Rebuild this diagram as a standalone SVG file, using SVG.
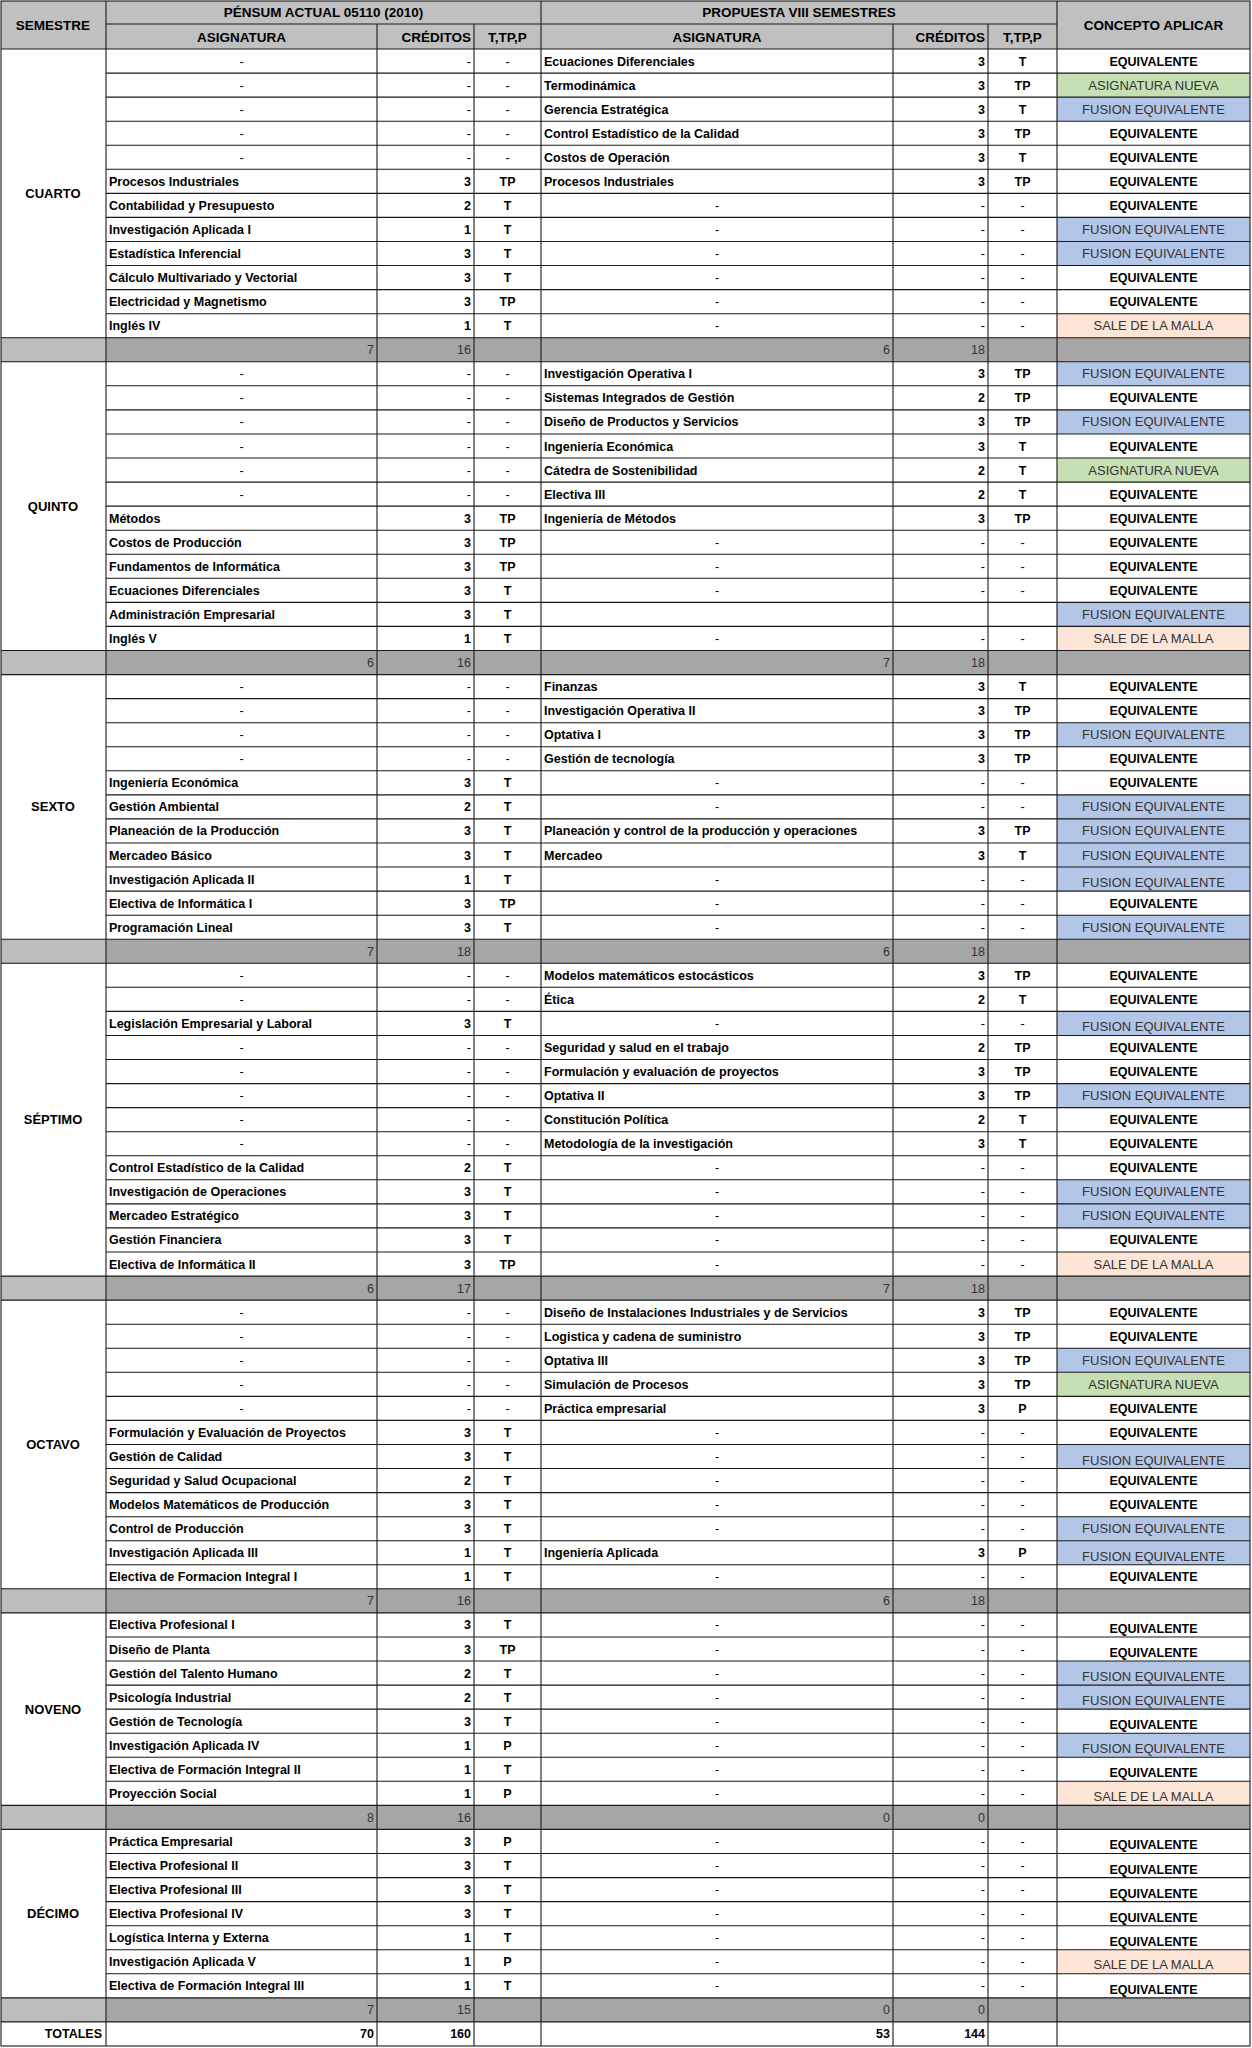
<svg xmlns="http://www.w3.org/2000/svg" width="1252" height="2048" viewBox="0 0 1252 2048">
<style>
text{font-family:"Liberation Sans",Arial,sans-serif;font-size:12.5px;font-weight:700;fill:#000}
.r{font-weight:400}
.k{font-weight:400;fill:#333;font-size:13px;text-anchor:middle}
.s{font-weight:400;fill:#333;text-anchor:end}
.h{font-size:13.5px;text-anchor:middle}
.sem{font-size:13px;text-anchor:middle}
.m{text-anchor:middle}
.e{text-anchor:end}
.bl{fill:#b4c6e7}.gr{fill:#c6e0b4}.sa{fill:#fce4d6}.sb{fill:#a6a6a6}.sl{fill:#bdbdbd}.hd{fill:#c0c0c0}
.ln{fill:none;stroke:#1a1a1a;stroke-width:1.1}
</style>
<rect x="0" y="0" width="1252" height="2048" fill="#fff"/>
<g id="header">
<rect class="hd" x="1" y="1" width="1249" height="48"/>
<text class="h" x="53" y="29.5">SEMESTRE</text>
<text class="h" x="323.5" y="17">PÉNSUM ACTUAL 05110 (2010)</text>
<text class="h" x="799" y="17">PROPUESTA VIII SEMESTRES</text>
<text class="h" x="241.5" y="41.5">ASIGNATURA</text>
<text class="h e" x="471" y="41.5">CRÉDITOS</text>
<text class="h" x="507.5" y="41.5">T,TP,P</text>
<text class="h" x="717" y="41.5">ASIGNATURA</text>
<text class="h e" x="985" y="41.5">CRÉDITOS</text>
<text class="h" x="1022.5" y="41.5">T,TP,P</text>
<text class="h" x="1153.5" y="29.5">CONCEPTO APLICAR</text>
</g>

<g id="cuarto">
<text class="sem" x="53" y="197.9">CUARTO</text>
<g transform="translate(0,65.5)"><text class="r m" x="241.5">-</text><text class="r e" x="471">-</text><text class="r m" x="507.5">-</text><text x="544">Ecuaciones Diferenciales</text><text class="e" x="985">3</text><text class="m" x="1022.5">T</text><text class="m" x="1153.5">EQUIVALENTE</text></g>
<g transform="translate(0,89.6)"><rect class="gr" x="1057" y="-16.5" width="193" height="24.1"/><text class="r m" x="241.5">-</text><text class="r e" x="471">-</text><text class="r m" x="507.5">-</text><text x="544">Termodinámica</text><text class="e" x="985">3</text><text class="m" x="1022.5">TP</text><text class="k" x="1153.5">ASIGNATURA NUEVA</text></g>
<g transform="translate(0,113.6)"><rect class="bl" x="1057" y="-16.5" width="193" height="24.1"/><text class="r m" x="241.5">-</text><text class="r e" x="471">-</text><text class="r m" x="507.5">-</text><text x="544">Gerencia Estratégica</text><text class="e" x="985">3</text><text class="m" x="1022.5">T</text><text class="k" x="1153.5">FUSION EQUIVALENTE</text></g>
<g transform="translate(0,137.7)"><text class="r m" x="241.5">-</text><text class="r e" x="471">-</text><text class="r m" x="507.5">-</text><text x="544">Control Estadístico de la Calidad</text><text class="e" x="985">3</text><text class="m" x="1022.5">TP</text><text class="m" x="1153.5">EQUIVALENTE</text></g>
<g transform="translate(0,161.7)"><text class="r m" x="241.5">-</text><text class="r e" x="471">-</text><text class="r m" x="507.5">-</text><text x="544">Costos de Operación</text><text class="e" x="985">3</text><text class="m" x="1022.5">T</text><text class="m" x="1153.5">EQUIVALENTE</text></g>
<g transform="translate(0,185.8)"><text x="109">Procesos Industriales</text><text class="e" x="471">3</text><text class="m" x="507.5">TP</text><text x="544">Procesos Industriales</text><text class="e" x="985">3</text><text class="m" x="1022.5">TP</text><text class="m" x="1153.5">EQUIVALENTE</text></g>
<g transform="translate(0,209.9)"><text x="109">Contabilidad y Presupuesto</text><text class="e" x="471">2</text><text class="m" x="507.5">T</text><text class="r m" x="717">-</text><text class="r e" x="985">-</text><text class="r m" x="1022.5">-</text><text class="m" x="1153.5">EQUIVALENTE</text></g>
<g transform="translate(0,233.9)"><rect class="bl" x="1057" y="-16.5" width="193" height="24.1"/><text x="109">Investigación Aplicada I</text><text class="e" x="471">1</text><text class="m" x="507.5">T</text><text class="r m" x="717">-</text><text class="r e" x="985">-</text><text class="r m" x="1022.5">-</text><text class="k" x="1153.5">FUSION EQUIVALENTE</text></g>
<g transform="translate(0,258)"><rect class="bl" x="1057" y="-16.5" width="193" height="24.1"/><text x="109">Estadística Inferencial</text><text class="e" x="471">3</text><text class="m" x="507.5">T</text><text class="r m" x="717">-</text><text class="r e" x="985">-</text><text class="r m" x="1022.5">-</text><text class="k" x="1153.5">FUSION EQUIVALENTE</text></g>
<g transform="translate(0,282)"><text x="109">Cálculo Multivariado y Vectorial</text><text class="e" x="471">3</text><text class="m" x="507.5">T</text><text class="r m" x="717">-</text><text class="r e" x="985">-</text><text class="r m" x="1022.5">-</text><text class="m" x="1153.5">EQUIVALENTE</text></g>
<g transform="translate(0,306.1)"><text x="109">Electricidad y Magnetismo</text><text class="e" x="471">3</text><text class="m" x="507.5">TP</text><text class="r m" x="717">-</text><text class="r e" x="985">-</text><text class="r m" x="1022.5">-</text><text class="m" x="1153.5">EQUIVALENTE</text></g>
<g transform="translate(0,330.2)"><rect class="sa" x="1057" y="-16.5" width="193" height="24.1"/><text x="109">Inglés IV</text><text class="e" x="471">1</text><text class="m" x="507.5">T</text><text class="r m" x="717">-</text><text class="r e" x="985">-</text><text class="r m" x="1022.5">-</text><text class="k" x="1153.5">SALE DE LA MALLA</text></g>
<g transform="translate(0,354.2)"><rect class="sb" x="1" y="-16.5" width="1249" height="24.1"/><rect class="sl" x="1" y="-16.5" width="105" height="24.1"/><text class="s" x="374">7</text><text class="s" x="471">16</text><text class="s" x="890">6</text><text class="s" x="985">18</text></g>
</g>

<g id="quinto">
<text class="sem" x="53" y="510.6">QUINTO</text>
<g transform="translate(0,378.3)"><rect class="bl" x="1057" y="-16.5" width="193" height="24.1"/><text class="r m" x="241.5">-</text><text class="r e" x="471">-</text><text class="r m" x="507.5">-</text><text x="544">Investigación Operativa I</text><text class="e" x="985">3</text><text class="m" x="1022.5">TP</text><text class="k" x="1153.5">FUSION EQUIVALENTE</text></g>
<g transform="translate(0,402.3)"><text class="r m" x="241.5">-</text><text class="r e" x="471">-</text><text class="r m" x="507.5">-</text><text x="544">Sistemas Integrados de Gestión</text><text class="e" x="985">2</text><text class="m" x="1022.5">TP</text><text class="m" x="1153.5">EQUIVALENTE</text></g>
<g transform="translate(0,426.4)"><rect class="bl" x="1057" y="-16.5" width="193" height="24.1"/><text class="r m" x="241.5">-</text><text class="r e" x="471">-</text><text class="r m" x="507.5">-</text><text x="544">Diseño de Productos y Servicios</text><text class="e" x="985">3</text><text class="m" x="1022.5">TP</text><text class="k" x="1153.5">FUSION EQUIVALENTE</text></g>
<g transform="translate(0,450.5)"><text class="r m" x="241.5">-</text><text class="r e" x="471">-</text><text class="r m" x="507.5">-</text><text x="544">Ingeniería Económica</text><text class="e" x="985">3</text><text class="m" x="1022.5">T</text><text class="m" x="1153.5">EQUIVALENTE</text></g>
<g transform="translate(0,474.5)"><rect class="gr" x="1057" y="-16.5" width="193" height="24.1"/><text class="r m" x="241.5">-</text><text class="r e" x="471">-</text><text class="r m" x="507.5">-</text><text x="544">Cátedra de Sostenibilidad</text><text class="e" x="985">2</text><text class="m" x="1022.5">T</text><text class="k" x="1153.5">ASIGNATURA NUEVA</text></g>
<g transform="translate(0,498.6)"><text class="r m" x="241.5">-</text><text class="r e" x="471">-</text><text class="r m" x="507.5">-</text><text x="544">Electiva III</text><text class="e" x="985">2</text><text class="m" x="1022.5">T</text><text class="m" x="1153.5">EQUIVALENTE</text></g>
<g transform="translate(0,522.6)"><text x="109">Métodos</text><text class="e" x="471">3</text><text class="m" x="507.5">TP</text><text x="544">Ingeniería de Métodos</text><text class="e" x="985">3</text><text class="m" x="1022.5">TP</text><text class="m" x="1153.5">EQUIVALENTE</text></g>
<g transform="translate(0,546.7)"><text x="109">Costos de Producción</text><text class="e" x="471">3</text><text class="m" x="507.5">TP</text><text class="r m" x="717">-</text><text class="r e" x="985">-</text><text class="r m" x="1022.5">-</text><text class="m" x="1153.5">EQUIVALENTE</text></g>
<g transform="translate(0,570.8)"><text x="109">Fundamentos de Informática</text><text class="e" x="471">3</text><text class="m" x="507.5">TP</text><text class="r m" x="717">-</text><text class="r e" x="985">-</text><text class="r m" x="1022.5">-</text><text class="m" x="1153.5">EQUIVALENTE</text></g>
<g transform="translate(0,594.8)"><text x="109">Ecuaciones Diferenciales</text><text class="e" x="471">3</text><text class="m" x="507.5">T</text><text class="r m" x="717">-</text><text class="r e" x="985">-</text><text class="r m" x="1022.5">-</text><text class="m" x="1153.5">EQUIVALENTE</text></g>
<g transform="translate(0,618.9)"><rect class="bl" x="1057" y="-16.5" width="193" height="24.1"/><text x="109">Administración Empresarial</text><text class="e" x="471">3</text><text class="m" x="507.5">T</text><text class="k" x="1153.5">FUSION EQUIVALENTE</text></g>
<g transform="translate(0,642.9)"><rect class="sa" x="1057" y="-16.5" width="193" height="24.1"/><text x="109">Inglés V</text><text class="e" x="471">1</text><text class="m" x="507.5">T</text><text class="r m" x="717">-</text><text class="r e" x="985">-</text><text class="r m" x="1022.5">-</text><text class="k" x="1153.5">SALE DE LA MALLA</text></g>
<g transform="translate(0,667)"><rect class="sb" x="1" y="-16.5" width="1249" height="24.1"/><rect class="sl" x="1" y="-16.5" width="105" height="24.1"/><text class="s" x="374">6</text><text class="s" x="471">16</text><text class="s" x="890">7</text><text class="s" x="985">18</text></g>
</g>

<g id="sexto">
<text class="sem" x="53" y="811.4">SEXTO</text>
<g transform="translate(0,691.1)"><text class="r m" x="241.5">-</text><text class="r e" x="471">-</text><text class="r m" x="507.5">-</text><text x="544">Finanzas</text><text class="e" x="985">3</text><text class="m" x="1022.5">T</text><text class="m" x="1153.5">EQUIVALENTE</text></g>
<g transform="translate(0,715.1)"><text class="r m" x="241.5">-</text><text class="r e" x="471">-</text><text class="r m" x="507.5">-</text><text x="544">Investigación Operativa II</text><text class="e" x="985">3</text><text class="m" x="1022.5">TP</text><text class="m" x="1153.5">EQUIVALENTE</text></g>
<g transform="translate(0,739.2)"><rect class="bl" x="1057" y="-16.5" width="193" height="24.1"/><text class="r m" x="241.5">-</text><text class="r e" x="471">-</text><text class="r m" x="507.5">-</text><text x="544">Optativa I</text><text class="e" x="985">3</text><text class="m" x="1022.5">TP</text><text class="k" x="1153.5">FUSION EQUIVALENTE</text></g>
<g transform="translate(0,763.2)"><text class="r m" x="241.5">-</text><text class="r e" x="471">-</text><text class="r m" x="507.5">-</text><text x="544">Gestión de tecnología</text><text class="e" x="985">3</text><text class="m" x="1022.5">TP</text><text class="m" x="1153.5">EQUIVALENTE</text></g>
<g transform="translate(0,787.3)"><text x="109">Ingeniería Económica</text><text class="e" x="471">3</text><text class="m" x="507.5">T</text><text class="r m" x="717">-</text><text class="r e" x="985">-</text><text class="r m" x="1022.5">-</text><text class="m" x="1153.5">EQUIVALENTE</text></g>
<g transform="translate(0,811.4)"><rect class="bl" x="1057" y="-16.5" width="193" height="24.1"/><text x="109">Gestión Ambiental</text><text class="e" x="471">2</text><text class="m" x="507.5">T</text><text class="r m" x="717">-</text><text class="r e" x="985">-</text><text class="r m" x="1022.5">-</text><text class="k" x="1153.5">FUSION EQUIVALENTE</text></g>
<g transform="translate(0,835.4)"><rect class="bl" x="1057" y="-16.5" width="193" height="24.1"/><text x="109">Planeación de la Producción</text><text class="e" x="471">3</text><text class="m" x="507.5">T</text><text x="544">Planeación y control de la producción y operaciones</text><text class="e" x="985">3</text><text class="m" x="1022.5">TP</text><text class="k" x="1153.5">FUSION EQUIVALENTE</text></g>
<g transform="translate(0,859.5)"><rect class="bl" x="1057" y="-16.5" width="193" height="24.1"/><text x="109">Mercadeo Básico</text><text class="e" x="471">3</text><text class="m" x="507.5">T</text><text x="544">Mercadeo</text><text class="e" x="985">3</text><text class="m" x="1022.5">T</text><text class="k" x="1153.5">FUSION EQUIVALENTE</text></g>
<g transform="translate(0,883.5)"><rect class="bl" x="1057" y="-16.5" width="193" height="24.1"/><text x="109">Investigación Aplicada II</text><text class="e" x="471">1</text><text class="m" x="507.5">T</text><text class="r m" x="717">-</text><text class="r e" x="985">-</text><text class="r m" x="1022.5">-</text><text class="k" x="1153.5" y="3.5">FUSION EQUIVALENTE</text></g>
<g transform="translate(0,907.6)"><text x="109">Electiva de Informática I</text><text class="e" x="471">3</text><text class="m" x="507.5">TP</text><text class="r m" x="717">-</text><text class="r e" x="985">-</text><text class="r m" x="1022.5">-</text><text class="m" x="1153.5">EQUIVALENTE</text></g>
<g transform="translate(0,931.7)"><rect class="bl" x="1057" y="-16.5" width="193" height="24.1"/><text x="109">Programación Lineal</text><text class="e" x="471">3</text><text class="m" x="507.5">T</text><text class="r m" x="717">-</text><text class="r e" x="985">-</text><text class="r m" x="1022.5">-</text><text class="k" x="1153.5">FUSION EQUIVALENTE</text></g>
<g transform="translate(0,955.7)"><rect class="sb" x="1" y="-16.5" width="1249" height="24.1"/><rect class="sl" x="1" y="-16.5" width="105" height="24.1"/><text class="s" x="374">7</text><text class="s" x="471">18</text><text class="s" x="890">6</text><text class="s" x="985">18</text></g>
</g>

<g id="septimo">
<text class="sem" x="53" y="1124.2">SÉPTIMO</text>
<g transform="translate(0,979.8)"><text class="r m" x="241.5">-</text><text class="r e" x="471">-</text><text class="r m" x="507.5">-</text><text x="544">Modelos matemáticos estocásticos</text><text class="e" x="985">3</text><text class="m" x="1022.5">TP</text><text class="m" x="1153.5">EQUIVALENTE</text></g>
<g transform="translate(0,1003.8)"><text class="r m" x="241.5">-</text><text class="r e" x="471">-</text><text class="r m" x="507.5">-</text><text x="544">Ética</text><text class="e" x="985">2</text><text class="m" x="1022.5">T</text><text class="m" x="1153.5">EQUIVALENTE</text></g>
<g transform="translate(0,1027.9)"><rect class="bl" x="1057" y="-16.5" width="193" height="24.1"/><text x="109">Legislación Empresarial y Laboral</text><text class="e" x="471">3</text><text class="m" x="507.5">T</text><text class="r m" x="717">-</text><text class="r e" x="985">-</text><text class="r m" x="1022.5">-</text><text class="k" x="1153.5" y="3.5">FUSION EQUIVALENTE</text></g>
<g transform="translate(0,1052)"><text class="r m" x="241.5">-</text><text class="r e" x="471">-</text><text class="r m" x="507.5">-</text><text x="544">Seguridad y salud en el trabajo</text><text class="e" x="985">2</text><text class="m" x="1022.5">TP</text><text class="m" x="1153.5">EQUIVALENTE</text></g>
<g transform="translate(0,1076)"><text class="r m" x="241.5">-</text><text class="r e" x="471">-</text><text class="r m" x="507.5">-</text><text x="544">Formulación y evaluación de proyectos</text><text class="e" x="985">3</text><text class="m" x="1022.5">TP</text><text class="m" x="1153.5">EQUIVALENTE</text></g>
<g transform="translate(0,1100.1)"><rect class="bl" x="1057" y="-16.5" width="193" height="24.1"/><text class="r m" x="241.5">-</text><text class="r e" x="471">-</text><text class="r m" x="507.5">-</text><text x="544">Optativa II</text><text class="e" x="985">3</text><text class="m" x="1022.5">TP</text><text class="k" x="1153.5">FUSION EQUIVALENTE</text></g>
<g transform="translate(0,1124.1)"><text class="r m" x="241.5">-</text><text class="r e" x="471">-</text><text class="r m" x="507.5">-</text><text x="544">Constitución Política</text><text class="e" x="985">2</text><text class="m" x="1022.5">T</text><text class="m" x="1153.5">EQUIVALENTE</text></g>
<g transform="translate(0,1148.2)"><text class="r m" x="241.5">-</text><text class="r e" x="471">-</text><text class="r m" x="507.5">-</text><text x="544">Metodología de la investigación</text><text class="e" x="985">3</text><text class="m" x="1022.5">T</text><text class="m" x="1153.5">EQUIVALENTE</text></g>
<g transform="translate(0,1172.3)"><text x="109">Control Estadístico de la Calidad</text><text class="e" x="471">2</text><text class="m" x="507.5">T</text><text class="r m" x="717">-</text><text class="r e" x="985">-</text><text class="r m" x="1022.5">-</text><text class="m" x="1153.5">EQUIVALENTE</text></g>
<g transform="translate(0,1196.3)"><rect class="bl" x="1057" y="-16.5" width="193" height="24.1"/><text x="109">Investigación de Operaciones</text><text class="e" x="471">3</text><text class="m" x="507.5">T</text><text class="r m" x="717">-</text><text class="r e" x="985">-</text><text class="r m" x="1022.5">-</text><text class="k" x="1153.5">FUSION EQUIVALENTE</text></g>
<g transform="translate(0,1220.4)"><rect class="bl" x="1057" y="-16.5" width="193" height="24.1"/><text x="109">Mercadeo Estratégico</text><text class="e" x="471">3</text><text class="m" x="507.5">T</text><text class="r m" x="717">-</text><text class="r e" x="985">-</text><text class="r m" x="1022.5">-</text><text class="k" x="1153.5">FUSION EQUIVALENTE</text></g>
<g transform="translate(0,1244.4)"><text x="109">Gestión Financiera</text><text class="e" x="471">3</text><text class="m" x="507.5">T</text><text class="r m" x="717">-</text><text class="r e" x="985">-</text><text class="r m" x="1022.5">-</text><text class="m" x="1153.5">EQUIVALENTE</text></g>
<g transform="translate(0,1268.5)"><rect class="sa" x="1057" y="-16.5" width="193" height="24.1"/><text x="109">Electiva de Informática II</text><text class="e" x="471">3</text><text class="m" x="507.5">TP</text><text class="r m" x="717">-</text><text class="r e" x="985">-</text><text class="r m" x="1022.5">-</text><text class="k" x="1153.5">SALE DE LA MALLA</text></g>
<g transform="translate(0,1292.6)"><rect class="sb" x="1" y="-16.5" width="1249" height="24.1"/><rect class="sl" x="1" y="-16.5" width="105" height="24.1"/><text class="s" x="374">6</text><text class="s" x="471">17</text><text class="s" x="890">7</text><text class="s" x="985">18</text></g>
</g>

<g id="octavo">
<text class="sem" x="53" y="1449">OCTAVO</text>
<g transform="translate(0,1316.6)"><text class="r m" x="241.5">-</text><text class="r e" x="471">-</text><text class="r m" x="507.5">-</text><text x="544">Diseño de Instalaciones Industriales y de Servicios</text><text class="e" x="985">3</text><text class="m" x="1022.5">TP</text><text class="m" x="1153.5">EQUIVALENTE</text></g>
<g transform="translate(0,1340.7)"><text class="r m" x="241.5">-</text><text class="r e" x="471">-</text><text class="r m" x="507.5">-</text><text x="544">Logistica y cadena de suministro</text><text class="e" x="985">3</text><text class="m" x="1022.5">TP</text><text class="m" x="1153.5">EQUIVALENTE</text></g>
<g transform="translate(0,1364.7)"><rect class="bl" x="1057" y="-16.5" width="193" height="24.1"/><text class="r m" x="241.5">-</text><text class="r e" x="471">-</text><text class="r m" x="507.5">-</text><text x="544">Optativa III</text><text class="e" x="985">3</text><text class="m" x="1022.5">TP</text><text class="k" x="1153.5">FUSION EQUIVALENTE</text></g>
<g transform="translate(0,1388.8)"><rect class="gr" x="1057" y="-16.5" width="193" height="24.1"/><text class="r m" x="241.5">-</text><text class="r e" x="471">-</text><text class="r m" x="507.5">-</text><text x="544">Simulación de Procesos</text><text class="e" x="985">3</text><text class="m" x="1022.5">TP</text><text class="k" x="1153.5">ASIGNATURA NUEVA</text></g>
<g transform="translate(0,1412.9)"><text class="r m" x="241.5">-</text><text class="r e" x="471">-</text><text class="r m" x="507.5">-</text><text x="544">Práctica empresarial</text><text class="e" x="985">3</text><text class="m" x="1022.5">P</text><text class="m" x="1153.5">EQUIVALENTE</text></g>
<g transform="translate(0,1436.9)"><text x="109">Formulación y Evaluación de Proyectos</text><text class="e" x="471">3</text><text class="m" x="507.5">T</text><text class="r m" x="717">-</text><text class="r e" x="985">-</text><text class="r m" x="1022.5">-</text><text class="m" x="1153.5">EQUIVALENTE</text></g>
<g transform="translate(0,1461)"><rect class="bl" x="1057" y="-16.5" width="193" height="24.1"/><text x="109">Gestión de Calidad</text><text class="e" x="471">3</text><text class="m" x="507.5">T</text><text class="r m" x="717">-</text><text class="r e" x="985">-</text><text class="r m" x="1022.5">-</text><text class="k" x="1153.5" y="3.5">FUSION EQUIVALENTE</text></g>
<g transform="translate(0,1485)"><text x="109">Seguridad y Salud Ocupacional</text><text class="e" x="471">2</text><text class="m" x="507.5">T</text><text class="r m" x="717">-</text><text class="r e" x="985">-</text><text class="r m" x="1022.5">-</text><text class="m" x="1153.5">EQUIVALENTE</text></g>
<g transform="translate(0,1509.1)"><text x="109">Modelos Matemáticos de Producción</text><text class="e" x="471">3</text><text class="m" x="507.5">T</text><text class="r m" x="717">-</text><text class="r e" x="985">-</text><text class="r m" x="1022.5">-</text><text class="m" x="1153.5">EQUIVALENTE</text></g>
<g transform="translate(0,1533.2)"><rect class="bl" x="1057" y="-16.5" width="193" height="24.1"/><text x="109">Control de Producción</text><text class="e" x="471">3</text><text class="m" x="507.5">T</text><text class="r m" x="717">-</text><text class="r e" x="985">-</text><text class="r m" x="1022.5">-</text><text class="k" x="1153.5">FUSION EQUIVALENTE</text></g>
<g transform="translate(0,1557.2)"><rect class="bl" x="1057" y="-16.5" width="193" height="24.1"/><text x="109">Investigación Aplicada III</text><text class="e" x="471">1</text><text class="m" x="507.5">T</text><text x="544">Ingeniería Aplicada</text><text class="e" x="985">3</text><text class="m" x="1022.5">P</text><text class="k" x="1153.5" y="3.5">FUSION EQUIVALENTE</text></g>
<g transform="translate(0,1581.3)"><text x="109">Electiva de Formacion Integral I</text><text class="e" x="471">1</text><text class="m" x="507.5">T</text><text class="r m" x="717">-</text><text class="r e" x="985">-</text><text class="r m" x="1022.5">-</text><text class="m" x="1153.5">EQUIVALENTE</text></g>
<g transform="translate(0,1605.3)"><rect class="sb" x="1" y="-16.5" width="1249" height="24.1"/><rect class="sl" x="1" y="-16.5" width="105" height="24.1"/><text class="s" x="374">7</text><text class="s" x="471">16</text><text class="s" x="890">6</text><text class="s" x="985">18</text></g>
</g>

<g id="noveno">
<text class="sem" x="53" y="1713.6">NOVENO</text>
<g transform="translate(0,1629.4)"><text x="109">Electiva Profesional I</text><text class="e" x="471">3</text><text class="m" x="507.5">T</text><text class="r m" x="717">-</text><text class="r e" x="985">-</text><text class="r m" x="1022.5">-</text><text class="m" x="1153.5" y="3.5">EQUIVALENTE</text></g>
<g transform="translate(0,1653.5)"><text x="109">Diseño de Planta</text><text class="e" x="471">3</text><text class="m" x="507.5">TP</text><text class="r m" x="717">-</text><text class="r e" x="985">-</text><text class="r m" x="1022.5">-</text><text class="m" x="1153.5" y="3.5">EQUIVALENTE</text></g>
<g transform="translate(0,1677.5)"><rect class="bl" x="1057" y="-16.5" width="193" height="24.1"/><text x="109">Gestión del Talento Humano</text><text class="e" x="471">2</text><text class="m" x="507.5">T</text><text class="r m" x="717">-</text><text class="r e" x="985">-</text><text class="r m" x="1022.5">-</text><text class="k" x="1153.5" y="3.5">FUSION EQUIVALENTE</text></g>
<g transform="translate(0,1701.6)"><rect class="bl" x="1057" y="-16.5" width="193" height="24.1"/><text x="109">Psicología Industrial</text><text class="e" x="471">2</text><text class="m" x="507.5">T</text><text class="r m" x="717">-</text><text class="r e" x="985">-</text><text class="r m" x="1022.5">-</text><text class="k" x="1153.5" y="3.5">FUSION EQUIVALENTE</text></g>
<g transform="translate(0,1725.6)"><text x="109">Gestión de Tecnología</text><text class="e" x="471">3</text><text class="m" x="507.5">T</text><text class="r m" x="717">-</text><text class="r e" x="985">-</text><text class="r m" x="1022.5">-</text><text class="m" x="1153.5" y="3.5">EQUIVALENTE</text></g>
<g transform="translate(0,1749.7)"><rect class="bl" x="1057" y="-16.5" width="193" height="24.1"/><text x="109">Investigación Aplicada IV</text><text class="e" x="471">1</text><text class="m" x="507.5">P</text><text class="r m" x="717">-</text><text class="r e" x="985">-</text><text class="r m" x="1022.5">-</text><text class="k" x="1153.5" y="3.5">FUSION EQUIVALENTE</text></g>
<g transform="translate(0,1773.8)"><text x="109">Electiva de Formación Integral II</text><text class="e" x="471">1</text><text class="m" x="507.5">T</text><text class="r m" x="717">-</text><text class="r e" x="985">-</text><text class="r m" x="1022.5">-</text><text class="m" x="1153.5" y="3.5">EQUIVALENTE</text></g>
<g transform="translate(0,1797.8)"><rect class="sa" x="1057" y="-16.5" width="193" height="24.1"/><text x="109">Proyección Social</text><text class="e" x="471">1</text><text class="m" x="507.5">P</text><text class="r m" x="717">-</text><text class="r e" x="985">-</text><text class="r m" x="1022.5">-</text><text class="k" x="1153.5" y="3.5">SALE DE LA MALLA</text></g>
<g transform="translate(0,1821.9)"><rect class="sb" x="1" y="-16.5" width="1249" height="24.1"/><rect class="sl" x="1" y="-16.5" width="105" height="24.1"/><text class="s" x="374">8</text><text class="s" x="471">16</text><text class="s" x="890">0</text><text class="s" x="985">0</text></g>
</g>

<g id="decimo">
<text class="sem" x="53" y="1918.1">DÉCIMO</text>
<g transform="translate(0,1845.9)"><text x="109">Práctica Empresarial</text><text class="e" x="471">3</text><text class="m" x="507.5">P</text><text class="r m" x="717">-</text><text class="r e" x="985">-</text><text class="r m" x="1022.5">-</text><text class="m" x="1153.5" y="3.5">EQUIVALENTE</text></g>
<g transform="translate(0,1870)"><text x="109">Electiva Profesional II</text><text class="e" x="471">3</text><text class="m" x="507.5">T</text><text class="r m" x="717">-</text><text class="r e" x="985">-</text><text class="r m" x="1022.5">-</text><text class="m" x="1153.5" y="3.5">EQUIVALENTE</text></g>
<g transform="translate(0,1894.1)"><text x="109">Electiva Profesional III</text><text class="e" x="471">3</text><text class="m" x="507.5">T</text><text class="r m" x="717">-</text><text class="r e" x="985">-</text><text class="r m" x="1022.5">-</text><text class="m" x="1153.5" y="3.5">EQUIVALENTE</text></g>
<g transform="translate(0,1918.1)"><text x="109">Electiva Profesional IV</text><text class="e" x="471">3</text><text class="m" x="507.5">T</text><text class="r m" x="717">-</text><text class="r e" x="985">-</text><text class="r m" x="1022.5">-</text><text class="m" x="1153.5" y="3.5">EQUIVALENTE</text></g>
<g transform="translate(0,1942.2)"><text x="109">Logística Interna y Externa</text><text class="e" x="471">1</text><text class="m" x="507.5">T</text><text class="r m" x="717">-</text><text class="r e" x="985">-</text><text class="r m" x="1022.5">-</text><text class="m" x="1153.5" y="3.5">EQUIVALENTE</text></g>
<g transform="translate(0,1966.2)"><rect class="sa" x="1057" y="-16.5" width="193" height="24.1"/><text x="109">Investigación Aplicada V</text><text class="e" x="471">1</text><text class="m" x="507.5">P</text><text class="r m" x="717">-</text><text class="r e" x="985">-</text><text class="r m" x="1022.5">-</text><text class="k" x="1153.5" y="3">SALE DE LA MALLA</text></g>
<g transform="translate(0,1990.3)"><text x="109">Electiva de Formación Integral III</text><text class="e" x="471">1</text><text class="m" x="507.5">T</text><text class="r m" x="717">-</text><text class="r e" x="985">-</text><text class="r m" x="1022.5">-</text><text class="m" x="1153.5" y="3.5">EQUIVALENTE</text></g>
<g transform="translate(0,2014.4)"><rect class="sb" x="1" y="-16.5" width="1249" height="24.1"/><rect class="sl" x="1" y="-16.5" width="105" height="24.1"/><text class="s" x="374">7</text><text class="s" x="471">15</text><text class="s" x="890">0</text><text class="s" x="985">0</text></g>
</g>

<g id="totales">
<g transform="translate(0,2038.4)"><text class="e" x="102">TOTALES</text><text class="e" x="374">70</text><text class="e" x="471">160</text><text class="e" x="890">53</text><text class="e" x="985">144</text></g>
</g>

<g id="grid">
<rect class="ln" x="1" y="1" width="1249" height="2045" stroke-width="1.6"/>
<path class="ln" d="M106 1V2046M541 1V2046M1057 1V2046M377 24V2046M474 24V2046M893 24V2046M988 24V2046M106 24H1057M1 49H1250"/>
<path class="ln" d="M106 73.1H1250M106 97.1H1250M106 121.2H1250M106 145.2H1250M106 169.3H1250M106 193.4H1250M106 217.4H1250M106 241.5H1250M106 265.5H1250M106 289.6H1250M106 313.7H1250M1 337.7H1250M1 361.8H1250
M106 385.8H1250M106 409.9H1250M106 434H1250M106 458H1250M106 482.1H1250M106 506.1H1250M106 530.2H1250M106 554.3H1250M106 578.3H1250M106 602.4H1250M106 626.4H1250M1 650.5H1250M1 674.6H1250
M106 698.6H1250M106 722.7H1250M106 746.7H1250M106 770.8H1250M106 794.9H1250M106 818.9H1250M106 843H1250M106 867H1250M106 891.1H1250M106 915.2H1250M1 939.2H1250M1 963.3H1250
M106 987.3H1250M106 1011.4H1250M106 1035.5H1250M106 1059.5H1250M106 1083.6H1250M106 1107.6H1250M106 1131.7H1250M106 1155.8H1250M106 1179.8H1250M106 1203.9H1250M106 1227.9H1250M106 1252H1250M1 1276.1H1250M1 1300.1H1250
M106 1324.2H1250M106 1348.2H1250M106 1372.3H1250M106 1396.4H1250M106 1420.4H1250M106 1444.5H1250M106 1468.5H1250M106 1492.6H1250M106 1516.7H1250M106 1540.7H1250M106 1564.8H1250M1 1588.8H1250M1 1612.9H1250
M106 1637H1250M106 1661H1250M106 1685.1H1250M106 1709.1H1250M106 1733.2H1250M106 1757.3H1250M106 1781.3H1250M1 1805.4H1250M1 1829.4H1250
M106 1853.5H1250M106 1877.6H1250M106 1901.6H1250M106 1925.7H1250M106 1949.7H1250M106 1973.8H1250M1 1997.9H1250M1 2021.9H1250"/>
</g>
</svg>
